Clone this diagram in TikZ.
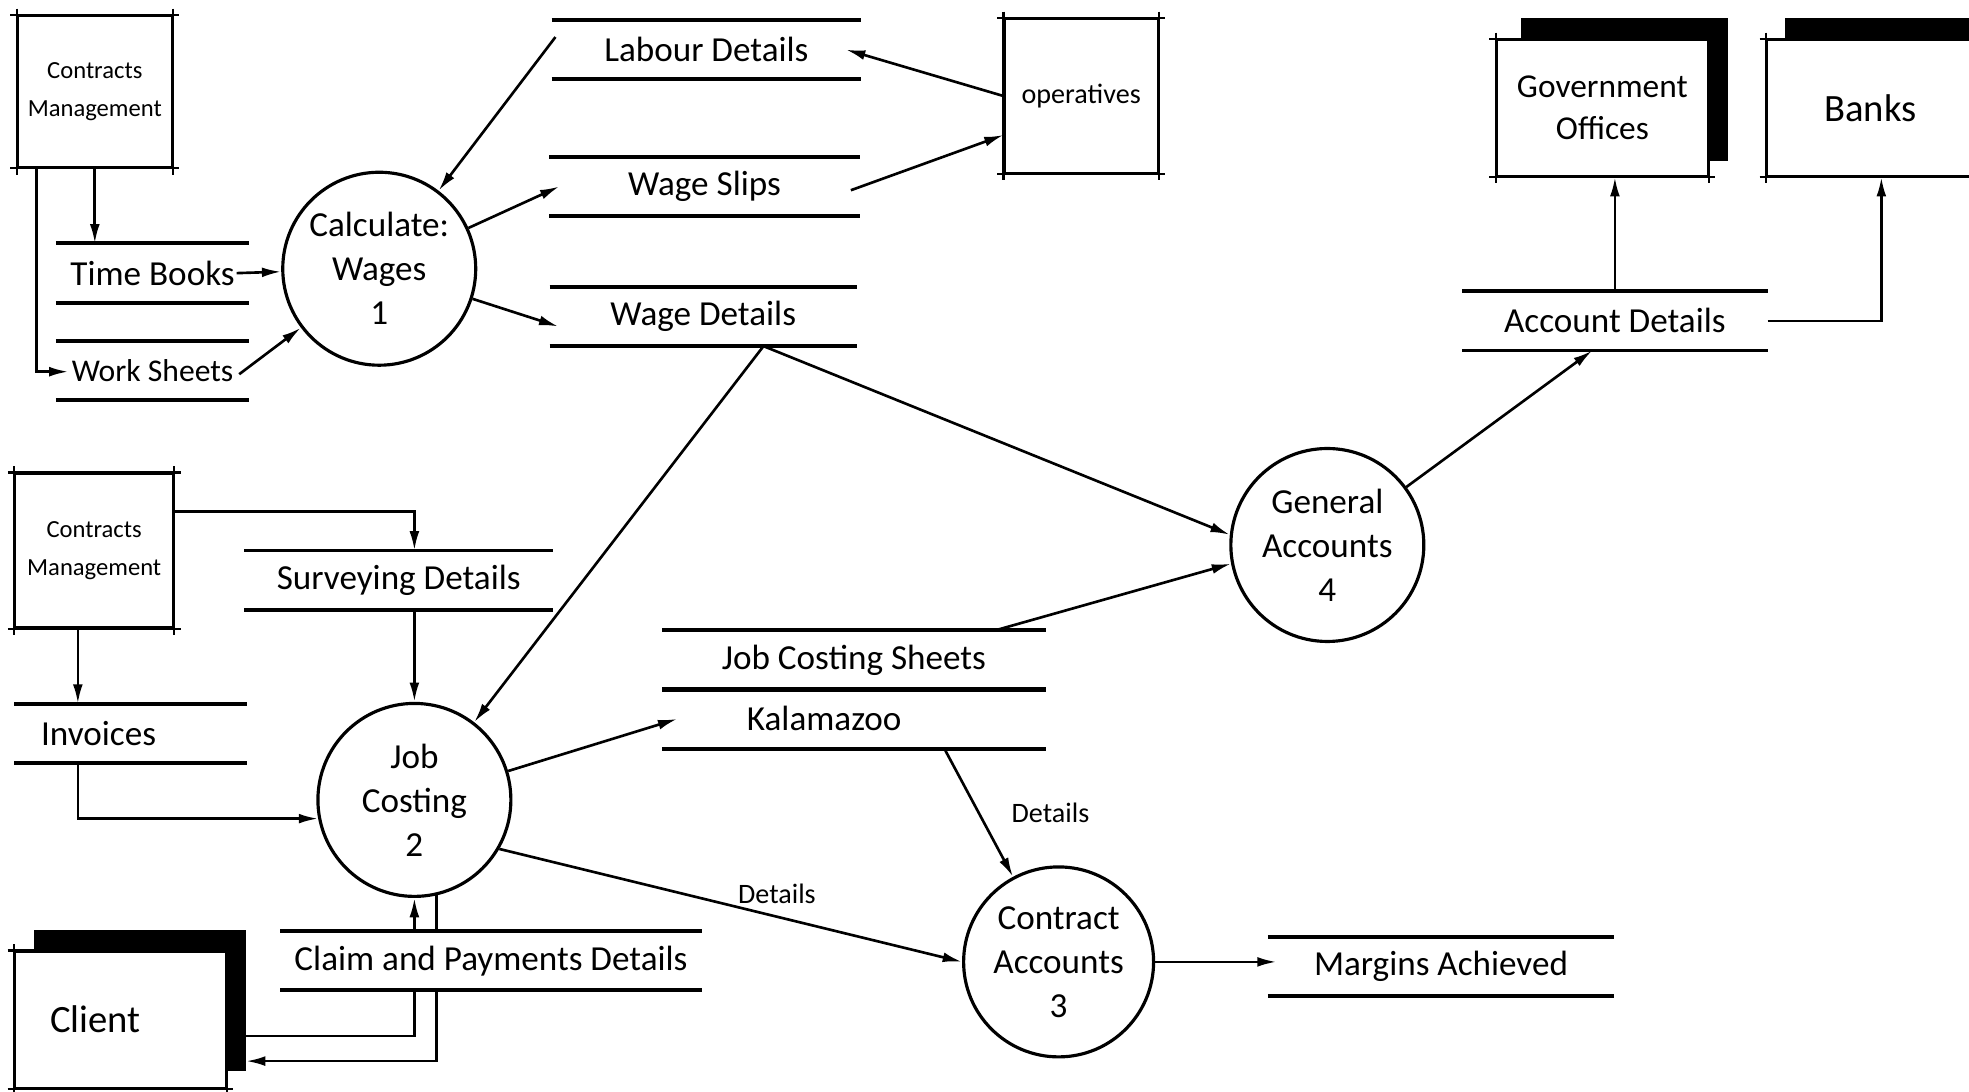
\documentclass[tikz,border=0pt]{standalone}
\usepackage{fontspec}
\setmainfont{Carlito}
\usetikzlibrary{positioning,calc,arrows.meta}

\tikzset{
  proc/.style={circle, draw, line width=0.9pt, minimum size=1.93cm, inner sep=0pt,
    align=center, font=\fontsize{10}{12.5}\selectfont},
  store/.style={minimum height=0.58cm, inner sep=0pt, font=\fontsize{10}{12}\selectfont},
  storeline/.style={line width=1.1pt},
  entity/.style={draw, line width=0.65pt, inner sep=0pt, align=center},
  flow/.style={line width=0.75pt, -{Latex[length=5.5pt,width=2.8pt]}},
  link/.style={line width=0.75pt},
  lbl/.style={font=\fontsize{8}{10}\selectfont},
}

\begin{document}
\begin{tikzpicture}[x=0.1256mm, y=-0.1256mm]
        \useasboundingbox (0,0) rectangle (1568,869);

        % external entities
        \node[entity, minimum width=1.54cm, minimum height=1.51cm, font=\fontsize{7}{11}\selectfont] (cmA) at (75.5,73) {Contracts\\Management};
        \node[entity, minimum width=1.58cm, minimum height=1.54cm, font=\fontsize{7}{11}\selectfont] (cmB) at (75,438.5) {Contracts\\Management};
        \node[entity, minimum width=1.53cm, minimum height=1.54cm, font=\fontsize{8}{10}\selectfont] (ops) at (861,76.5) {operatives};
        \node[entity, minimum width=2.11cm, minimum height=1.36cm, font=\fontsize{9.5}{12}\selectfont] (gov) at (1276,86) {Government\\Offices};
        \node[entity, minimum width=2.07cm, minimum height=1.36cm, font=\fontsize{11}{13}\selectfont] (banks) at (1489.5,86) {Banks};
        \node[entity, minimum width=2.11cm, minimum height=1.36cm, text width=1.41cm, align=left, font=\fontsize{11}{13}\selectfont] (client) at (96,812) {Client};

        % sides run on past the corners
        \foreach \e in {cmA,cmB,ops,gov,banks,client} {
          \draw[line width=0.65pt] ($(\e.north west)+(-5,0)$) -- ($(\e.north east)+(5,0)$);
          \draw[line width=0.65pt] ($(\e.south west)+(-5,0)$) -- ($(\e.south east)+(5,0)$);
          \draw[line width=0.65pt] ($(\e.north west)+(0,-5)$) -- ($(\e.south west)+(0,5)$);
          \draw[line width=0.65pt] ($(\e.north east)+(0,-5)$) -- ($(\e.south east)+(0,5)$);
        }

        % shadows of the outside bodies
        \fill ($(gov.north west)+(20,-17)$) rectangle ($(gov.north east)+(15,0)$);
        \fill ($(gov.north east)+(0,-17)$) rectangle ($(gov.south east)+(15,-13)$);
        \fill ($(banks.north west)+(15,-17)$) rectangle ($(banks.north east)+(15,0)$);
        \fill ($(client.north west)+(16,-16)$) rectangle ($(client.north east)+(15,0)$);
        \fill ($(client.north east)+(0,-16)$) rectangle ($(client.south east)+(15,-14)$);

        % processes
        \node[proc] (wages) at (302,214) {Calculate:\\Wages\\1};
        \node[proc] (costing) at (330,637) {Job\\Costing\\2};
        \node[proc, minimum size=1.9cm] (contract) at (843,766) {Contract\\Accounts\\3};
        \node[proc] (general) at (1057,434) {General\\Accounts\\4};

        % data stores
        \node[store, minimum width=1.92cm] (timebooks) at (121.5,217.5) {Time Books};
        \node[store, minimum width=1.92cm, font=\fontsize{9}{11}\selectfont] (worksheets) at (121.5,295) {Work Sheets};
        \node[store, minimum width=3.08cm] (labour) at (562.5,39.5) {Labour Details};
        \node[store, minimum width=3.09cm] (slips) at (561,148.5) {Wage Slips};
        \node[store, minimum width=3.06cm] (wagedet) at (560,252) {Wage Details};
        \node[store, minimum width=3.04cm] (accdet) at (1286,255.5) {Account Details};
        \node[store, minimum width=3.08cm] (survey) at (317.5,462) {Surveying Details};
        \node[store, minimum width=2.31cm, text width=1.79cm, align=left] (invoices) at (104,584) {Invoices};
        \node[store, minimum width=4.20cm] (claims) at (391,765) {Claim and Payments Details};
        \node[store, minimum width=3.82cm] (jcs) at (680,525.5) {Job Costing Sheets};
        \node[store, minimum width=3.82cm, text width=2.14cm, align=left] (kalam) at (680,572.5) {Kalamazoo};
        \node[store, minimum width=3.45cm] (margins) at (1147.5,769.5) {Margins Achieved};

        \foreach \s in {timebooks,worksheets,labour,slips,wagedet,accdet,survey,invoices,claims,jcs,kalam,margins}
          \draw[storeline] (\s.north west) -- (\s.north east) (\s.south west) -- (\s.south east);

        % wages
        \draw[flow] (cmA.south) -- (cmA.south |- timebooks.north);
        \draw[flow] ($(cmA.south west)+(16,0)$) |- ($(worksheets.west)+(10,1)$);
        \draw[flow] ($(timebooks.east)+(-10,0)$) -- (wages);
        \draw[flow] ($(worksheets.east)+(-8,3)$) -- (wages);
        \draw[flow] ($(labour.west)+(3,-10)$) -- (wages);
        \draw[flow] (ops.west) -- ($(labour.east)+(-12,0)$);
        \draw[flow] (wages) -- ($(slips.west)+(8,0)$);
        \draw[flow] ($(slips.east)+(-7,3)$) -- ($(ops.west)+(0,31)$);
        \draw[flow] (wages) -- ($(wagedet.west)+(7,8)$);

        % accounts
        \coordinate (wdout) at ($(wagedet.south)+(48,0)$);
        \draw[flow] (wdout) -- (costing);
        \draw[flow] (wdout) -- (general.174);
        \draw[flow] ($(jcs.north)+(113,0)$) -- (general.191);
        \draw[flow] (general) -- ($(accdet.south)+(-18,0)$);
        \draw[flow] (accdet.north) -- (accdet.north |- gov.south);
        \coordinate (bankin) at ($(banks.south west)+(92,0)$);
        \draw[flow] (accdet.east) -| (bankin);

        % job costing
        \draw[flow] ($(cmB.north east)+(0,31)$) -| (costing.north |- survey.north);
        \draw[flow] (costing.north |- survey.south) -- (costing.north);
        \draw[flow] ($(cmB.south)+(-13,0)$) -- ($(invoices.north)+(-42,0)$);
        \draw[flow] ($(invoices.south)+(-42,0)$) |- (costing.191);
        \draw[flow] (costing) -- ($(kalam.west)+(12,0)$);
        \draw[flow] ($(kalam.south)+(72,0)$) -- (contract) node[lbl, midway, right=0.2cm] {Details};
        \draw[flow] (costing.330) -- (contract.west) node[lbl, pos=0.6, above] {Details};
        \draw[flow] (contract.east) -- ($(contract.east -| margins.west)+(7,0)$);

        % client
        \draw[link] ($(client.east)+(15,13)$) -| (costing.south |- claims.south);
        \draw[flow] (costing.south |- claims.north) -- (costing.south);
        \draw[link] (costing.283) -- (costing.283 |- claims.north);
        \draw[flow] (costing.283 |- claims.south) |- ($(client.east)+(15,33)$);

\end{tikzpicture}
\end{document}
